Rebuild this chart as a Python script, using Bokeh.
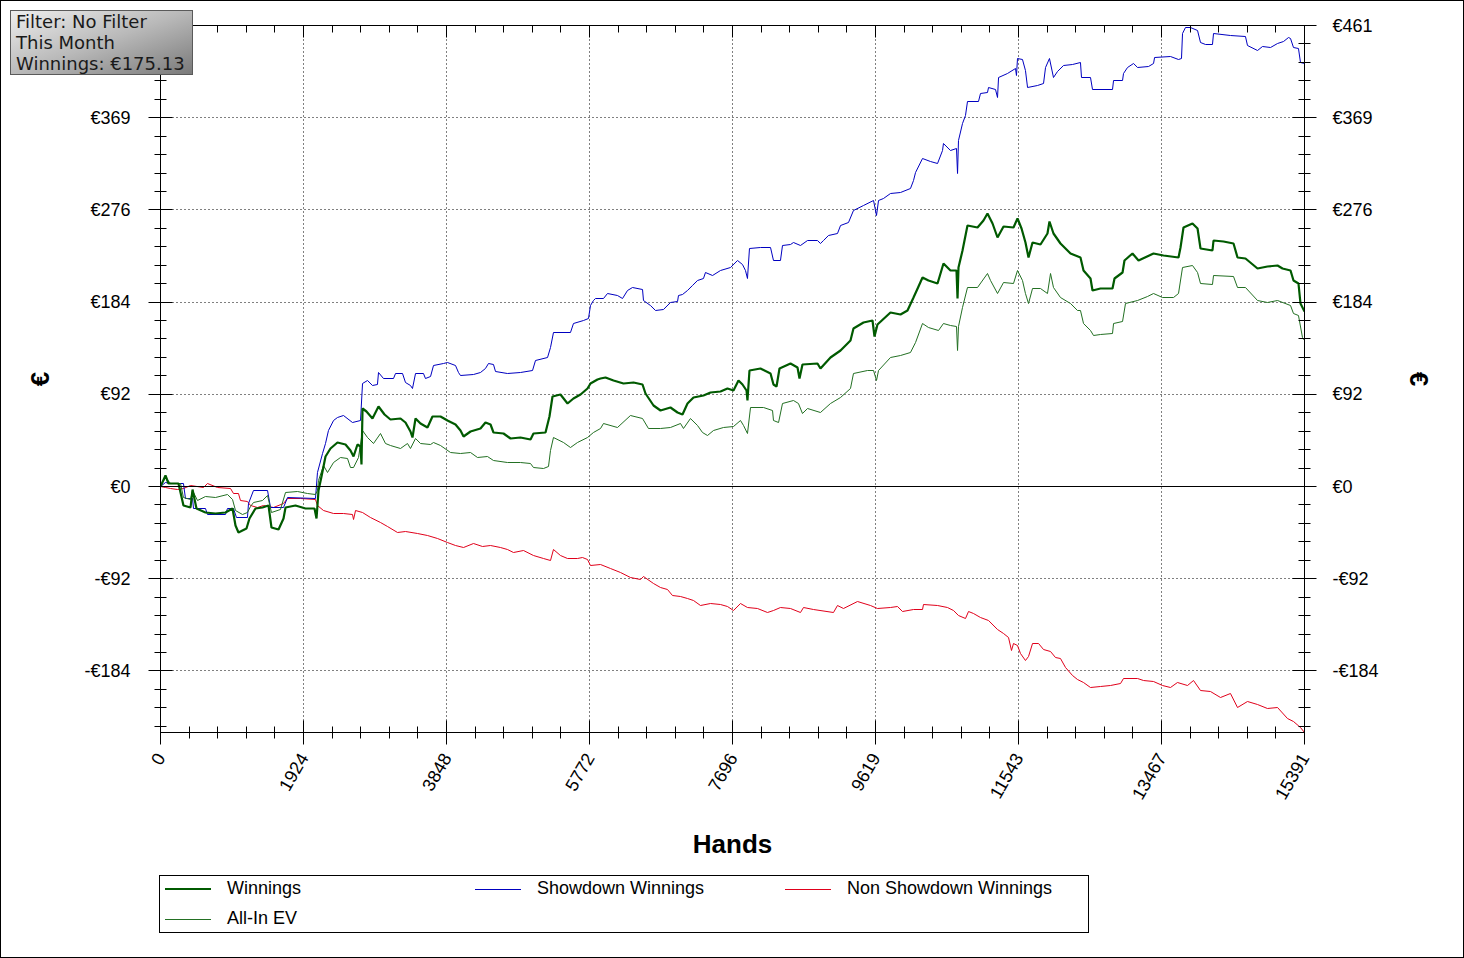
import math
from bokeh.plotting import figure
from bokeh.layouts import column
from bokeh.models import (Range1d, LinearAxis, FixedTicker, CustomJSTickFormatter,
                          Span, Div)
from bokeh.embed import file_html
from bokeh.resources import INLINE

# ---------------- data (hands, euros) ----------------
win_hands = [
    0, 67, 108, 242, 309, 404, 431, 484, 605, 740,
    874, 969, 1009, 1049, 1157, 1197, 1278, 1372, 1453, 1493,
    1588, 1655, 1682, 1816, 1951, 2072, 2099, 2126, 2166, 2220,
    2287, 2381, 2489, 2556, 2597, 2650, 2691, 2704, 2718, 2771,
    2852, 2933, 3014, 3094, 3229, 3296, 3363, 3390, 3431, 3498,
    3592, 3659, 3767, 3861, 3969, 4036, 4077, 4171, 4305, 4372,
    4440, 4480, 4615, 4709, 4843, 4978, 5018, 5180, 5233, 5274,
    5381, 5476, 5556, 5651, 5745, 5785, 5879, 5920, 5987, 6095,
    6229, 6364, 6485, 6525, 6633, 6727, 6861, 6956, 7023, 7090,
    7171, 7305, 7400, 7534, 7628, 7709, 7776, 7830, 7884, 7897,
    7924, 8072, 8207, 8247, 8288, 8328, 8476, 8570, 8597, 8637,
    8839, 8879, 9014, 9149, 9283, 9323, 9458, 9579, 9606, 9646,
    9821, 9956, 10050, 10131, 10198, 10252, 10332, 10454, 10534, 10628,
    10709, 10723, 10736, 10790, 10857, 10992, 11072, 11126, 11194, 11261,
    11342, 11476, 11530, 11584, 11637, 11678, 11732, 11839, 11933, 11960,
    12014, 12108, 12243, 12377, 12418, 12512, 12539, 12646, 12808, 12835,
    12943, 12969, 13077, 13158, 13360, 13494, 13696, 13723, 13763, 13884,
    13952, 13992, 14153, 14167, 14301, 14436, 14490, 14597, 14759, 14893,
    15028, 15095, 15203, 15243, 15310, 15337, 15391,
]
win_values = [
    0, 11, 3, 3, -19, -21, -3, -22, -26, -27,
    -26, -22, -39, -46, -42, -32, -22, -21, -19, -41,
    -43, -32, -21, -19, -22, -22, -32, -4, 10, 30,
    38, 44, 42, 36, 30, 42, 40, 22, 78, 75,
    68, 80, 72, 67, 68, 64, 55, 49, 68, 63,
    59, 70, 70, 66, 62, 56, 50, 55, 58, 64,
    62, 54, 53, 48, 49, 47, 53, 54, 70, 90,
    92, 83, 88, 92, 98, 103, 107, 108, 109, 106,
    103, 104, 102, 93, 81, 76, 79, 74, 72, 83,
    89, 91, 94, 95, 98, 96, 106, 102, 96, 86,
    116, 118, 113, 102, 100, 118, 123, 119, 108, 122,
    123, 118, 129, 136, 146, 158, 164, 166, 150, 162,
    174, 172, 176, 189, 200, 209, 206, 203, 223, 216,
    216, 188, 219, 236, 261, 259, 266, 273, 263, 249,
    260, 259, 268, 258, 244, 229, 244, 242, 253, 265,
    253, 243, 233, 229, 216, 208, 196, 198, 198, 208,
    214, 226, 233, 226, 233, 231, 229, 239, 259, 263,
    258, 238, 236, 246, 245, 243, 229, 228, 218, 220,
    221, 218, 216, 206, 203, 183, 175,
]

ev_hands = [
    0, 67, 135, 269, 309, 404, 431, 498, 605, 740,
    901, 969, 1009, 1103, 1170, 1211, 1251, 1372, 1440, 1493,
    1614, 1682, 1843, 1978, 2085, 2112, 2126, 2193, 2247, 2328,
    2422, 2516, 2556, 2597, 2664, 2718, 2785, 2866, 2960, 3027,
    3094, 3229, 3323, 3363, 3431, 3498, 3633, 3673, 3767, 3902,
    4036, 4171, 4265, 4399, 4480, 4668, 4843, 4978, 5018, 5153,
    5220, 5247, 5287, 5422, 5516, 5610, 5745, 5825, 5920, 5960,
    6148, 6323, 6485, 6565, 6727, 6861, 6996, 7036, 7130, 7225,
    7292, 7359, 7440, 7574, 7709, 7803, 7844, 7897, 7938, 8113,
    8234, 8247, 8315, 8368, 8516, 8583, 8637, 8705, 8879, 9014,
    9149, 9283, 9323, 9512, 9593, 9633, 9660, 9821, 9956, 10090,
    10158, 10252, 10332, 10467, 10534, 10628, 10709, 10723, 10736, 10790,
    10857, 10992, 11126, 11167, 11261, 11342, 11476, 11530, 11597, 11637,
    11678, 11732, 11839, 11933, 11974, 12014, 12108, 12243, 12337, 12377,
    12418, 12512, 12553, 12646, 12808, 12822, 12943, 12983, 13145, 13279,
    13360, 13481, 13629, 13696, 13750, 13884, 13952, 13992, 14153, 14167,
    14436, 14490, 14597, 14759, 14893, 15028, 15203, 15243, 15310, 15364,
    15391,
]
ev_values = [
    0, 9, 3, 3, -11, -13, -4, -14, -10, -11,
    -8, -13, -24, -28, -26, -20, -16, -14, -9, -26,
    -23, -6, -5, -7, -8, -4, 6, 21, 14, 24,
    29, 28, 19, 19, 29, 56, 49, 43, 53, 43,
    41, 38, 43, 38, 48, 43, 42, 44, 41, 34,
    33, 34, 29, 30, 26, 24, 24, 23, 19, 18,
    20, 36, 49, 44, 39, 44, 49, 54, 58, 63,
    59, 71, 68, 58, 58, 59, 63, 58, 68, 61,
    54, 51, 56, 59, 60, 66, 61, 53, 79, 79,
    76, 66, 64, 83, 86, 83, 73, 78, 74, 83,
    89, 98, 113, 116, 116, 106, 116, 129, 131, 134,
    144, 163, 159, 156, 163, 161, 160, 136, 160, 179,
    199, 199, 213, 206, 193, 204, 203, 216, 206, 193,
    183, 198, 198, 193, 213, 199, 189, 183, 176, 176,
    163, 156, 151, 152, 153, 163, 165, 183, 186, 190,
    193, 189, 189, 193, 219, 221, 214, 203, 202, 211,
    210, 199, 199, 186, 184, 186, 181, 173, 171, 149,
    146,
]

sd_hands = [
    0, 67, 135, 309, 336, 431, 444, 605, 632, 874,
    901, 982, 1022, 1170, 1184, 1251, 1440, 1480, 1655, 1709,
    2085, 2112, 2180, 2220, 2260, 2328, 2381, 2462, 2583, 2691,
    2718, 2785, 2852, 2919, 2933, 3000, 3135, 3162, 3256, 3296,
    3363, 3390, 3431, 3538, 3565, 3633, 3673, 3807, 3861, 3969,
    4009, 4036, 4211, 4305, 4372, 4413, 4480, 4507, 4668, 4843,
    5005, 5045, 5207, 5247, 5287, 5516, 5556, 5691, 5758, 5785,
    5825, 5852, 5960, 6014, 6148, 6216, 6283, 6350, 6485, 6498,
    6592, 6660, 6767, 6861, 6956, 6969, 7023, 7090, 7157, 7225,
    7305, 7332, 7427, 7534, 7669, 7763, 7830, 7870, 7897, 7924,
    8072, 8207, 8247, 8341, 8368, 8476, 8516, 8610, 8705, 8839,
    8879, 8920, 8987, 9108, 9149, 9256, 9323, 9458, 9593, 9633,
    9660, 9727, 9821, 9956, 10090, 10131, 10158, 10252, 10359, 10454,
    10521, 10534, 10628, 10709, 10723, 10736, 10790, 10830, 10857, 11005,
    11032, 11126, 11140, 11234, 11261, 11275, 11395, 11503, 11516, 11530,
    11597, 11637, 11665, 11799, 11880, 11907, 11960, 12014, 12068, 12149,
    12270, 12377, 12391, 12512, 12539, 12808, 12822, 12943, 12956, 13010,
    13091, 13145, 13293, 13360, 13374, 13588, 13696, 13736, 13750, 13790,
    13857, 13952, 13992, 14060, 14153, 14167, 14395, 14597, 14624, 14759,
    14826, 14934, 15028, 15109, 15176, 15203, 15243, 15310, 15337, 15391,
]
sd_values = [
    0, 4, 3, 3, -12, -12, -22, -22, -28, -28,
    -22, -22, -31, -31, -17, -4, -4, -21, -21, -11,
    -12, 14, 33, 43, 56, 66, 69, 71, 64, 66,
    103, 106, 101, 102, 114, 108, 108, 113, 113, 104,
    101, 98, 113, 113, 108, 110, 121, 123, 124, 121,
    114, 111, 112, 114, 118, 123, 122, 115, 113, 114,
    116, 126, 129, 139, 154, 154, 163, 166, 168, 181,
    186, 188, 188, 193, 191, 188, 196, 199, 197, 186,
    181, 176, 177, 184, 185, 191, 192, 196, 201, 206,
    208, 214, 211, 216, 219, 226, 222, 216, 208, 238,
    239, 239, 226, 226, 241, 242, 244, 241, 246, 246,
    243, 246, 251, 253, 261, 264, 276, 281, 286, 271,
    286, 288, 293, 294, 298, 306, 314, 328, 325, 323,
    336, 343, 336, 338, 313, 346, 363, 371, 385, 385,
    393, 394, 399, 397, 389, 409, 413, 418, 411, 428,
    427, 416, 399, 401, 403, 419, 428, 409, 415, 421,
    422, 424, 409, 409, 397, 397, 406, 406, 413, 419,
    423, 419, 420, 423, 429, 430, 427, 428, 453, 459,
    459, 456, 444, 442, 442, 453, 451, 450, 441, 436,
    440, 439, 443, 445, 449, 448, 439, 438, 424, 423,
]

nsd_hands = [
    0, 67, 135, 229, 309, 404, 579, 632, 767, 942,
    982, 1049, 1076, 1170, 1211, 1305, 1386, 1520, 1655, 1709,
    1884, 2085, 2112, 2193, 2328, 2462, 2583, 2597, 2624, 2718,
    2825, 2960, 3054, 3189, 3296, 3458, 3592, 3727, 3861, 3969,
    4077, 4211, 4332, 4440, 4574, 4668, 4749, 4884, 5018, 5153,
    5247, 5287, 5381, 5476, 5610, 5677, 5745, 5785, 5920, 6054,
    6189, 6323, 6458, 6498, 6633, 6727, 6821, 6888, 6996, 7090,
    7171, 7265, 7400, 7534, 7628, 7709, 7803, 7897, 8032, 8166,
    8247, 8341, 8476, 8610, 8651, 8785, 9054, 9108, 9189, 9377,
    9552, 9646, 9821, 9915, 9983, 10131, 10252, 10265, 10454, 10588,
    10669, 10736, 10830, 10871, 10938, 11032, 11140, 11261, 11342, 11409,
    11449, 11476, 11530, 11570, 11637, 11678, 11732, 11813, 11880, 11974,
    12041, 12108, 12176, 12270, 12337, 12418, 12512, 12646, 12781, 12916,
    12956, 13145, 13225, 13360, 13481, 13588, 13682, 13817, 13898, 13992,
    14126, 14261, 14395, 14490, 14624, 14759, 14893, 15028, 15162, 15243,
    15337, 15391,
]
nsd_values = [
    0, -1, -2, -3, -2, 1, -1, 3, -1, -2,
    -7, -7, -14, -15, -19, -21, -19, -21, -17, -12,
    -12, -13, -19, -24, -27, -27, -28, -33, -24, -26,
    -31, -36, -40, -46, -45, -47, -49, -52, -56, -59,
    -61, -57, -60, -59, -61, -63, -66, -64, -69, -72,
    -74, -63, -69, -72, -72, -71, -73, -79, -78, -82,
    -86, -91, -93, -90, -97, -101, -103, -109, -110, -112,
    -114, -119, -117, -118, -120, -124, -117, -121, -122, -126,
    -124, -121, -122, -126, -121, -123, -126, -119, -122, -115,
    -119, -122, -121, -120, -125, -123, -123, -118, -119, -121,
    -124, -129, -132, -125, -127, -131, -134, -143, -147, -151,
    -164, -157, -159, -167, -174, -170, -157, -157, -163, -165,
    -171, -172, -181, -189, -193, -196, -201, -200, -199, -197,
    -192, -192, -194, -195, -199, -201, -196, -199, -194, -204,
    -205, -211, -207, -221, -215, -218, -222, -221, -232, -235,
    -241, -246,
]

series_labels = ["Winnings", "Showdown Winnings", "Non Showdown Winnings", "All-In EV"]
series_colors = ["#005a00", "#0000c0", "#e0001b", "#237023"]
series_widths = [2, 1, 1, 1]

x_ticks = [0, 1924, 3848, 5772, 7696, 9619, 11543, 13467, 15391]
y_ticks = [-184.4, -92.2, 0.0, 92.2, 184.4, 276.6, 368.8, 461.0]
y_tick_labels = ["-€184", "-€92", "€0", "€92", "€184", "€276", "€369", "€461"]

info_lines = ["Filter: No Filter", "This Month", "Winnings: €175.13"]

X_MIN, X_MAX = 0, 15391
Y_MIN, Y_MAX = -246, 461

# ---------------- ticks ----------------
x_minor = [a + (b - a) * k / 5 for a, b in zip(x_ticks[:-1], x_ticks[1:]) for k in range(1, 5)]
y_step = (y_ticks[1] - y_ticks[0]) / 5
y_minor = [v for v in (i * y_step for i in range(-14, 27)) if Y_MIN <= v <= Y_MAX]

FONT = "Liberation Sans"

p = figure(width=1464, height=958, output_backend="svg", toolbar_location=None,
           x_range=Range1d(X_MIN, X_MAX), y_range=Range1d(Y_MIN, Y_MAX),
           min_border_left=160, min_border_right=160, min_border_top=25,
           min_border_bottom=226, background_fill_color="white",
           border_fill_color="white", outline_line_color=None, margin=0)

y_fmt = CustomJSTickFormatter(args=dict(vals=y_ticks, labs=y_tick_labels), code="""
let best = 0;
for (let i = 0; i < vals.length; i++) {
  if (Math.abs(vals[i] - tick) < Math.abs(vals[best] - tick)) best = i;
}
return labs[best];
""")
blank_fmt = CustomJSTickFormatter(code="return '';")


def style(ax, ticks, minor, tin, tout, mtin, mtout):
    ax.ticker = FixedTicker(ticks=ticks, minor_ticks=minor)
    ax.axis_line_color = "black"
    ax.axis_line_width = 1
    ax.major_tick_line_color = "black"
    ax.minor_tick_line_color = "black"
    ax.major_tick_in = tin
    ax.major_tick_out = tout
    ax.minor_tick_in = mtin
    ax.minor_tick_out = mtout
    ax.major_label_text_font = FONT
    ax.major_label_text_font_size = "18px"
    ax.major_label_text_color = "black"
    ax.axis_label_text_font = FONT
    ax.axis_label_text_font_size = "26px"
    ax.axis_label_text_font_style = "bold"
    ax.axis_label_text_color = "black"


# bottom
xb = p.xaxis[0]
style(xb, x_ticks, x_minor, 12, 12, 6, 6)
xb.major_label_orientation = math.pi / 3
xb.major_label_standoff = 10
xb.axis_label = "Hands"
xb.axis_label_standoff = 22

# left
yl = p.yaxis[0]
style(yl, y_ticks, y_minor, 12, 12, 6, 6)
yl.formatter = y_fmt
yl.major_label_standoff = 18
yl.axis_label = "€"
yl.axis_label_standoff = 26

# right
yr = LinearAxis()
style(yr, y_ticks, y_minor, 12, 12, 6, 6)
yr.formatter = y_fmt
yr.major_label_standoff = 16
yr.axis_label = "€"
yr.axis_label_standoff = 22
p.add_layout(yr, "right")

# top
xt = LinearAxis()
style(xt, x_ticks, x_minor, 12, 0, 7, 0)
xt.formatter = blank_fmt
xt.major_label_text_font_size = "0px"
xt.major_label_standoff = 0
p.add_layout(xt, "above")

# grids
p.xgrid.ticker = FixedTicker(ticks=x_ticks)
p.ygrid.ticker = FixedTicker(ticks=y_ticks)
for g in (p.xgrid, p.ygrid):
    g.grid_line_color = "black"
    g.grid_line_dash = "1 3"
    g.grid_line_width = 1

p.add_layout(Span(location=0, dimension="width", line_color="black", line_width=1))

p.line(nsd_hands, nsd_values, line_color=series_colors[2], line_width=1)
p.line(sd_hands, sd_values, line_color=series_colors[1], line_width=1)
p.line(ev_hands, ev_values, line_color=series_colors[3], line_width=1)
p.line(win_hands, win_values, line_color=series_colors[0], line_width=2.2)

# ---------------- legend box (HTML, below the axis) ----------------
items_html = []
for i, (lab, col, w) in enumerate(zip(series_labels, series_colors, series_widths)):
    c, r = i % 3, i // 3
    cy = 13 + r * 30
    gx = 5 + c * 310
    items_html.append(
        f'<div style="position:absolute;left:{gx}px;top:{cy - w // 2}px;width:46px;'
        f'height:{w}px;background-color:{col};"></div>'
        f'<div style="position:absolute;left:{gx + 62}px;top:{cy - 11}px;line-height:20px;'
        f'white-space:nowrap;">{lab}</div>')
legend_html = (
    '<div style="position:relative;width:930px;height:58px;border:1px solid #000;'
    "box-sizing:border-box;background:#fff;font-family:'Liberation Sans',Arial,sans-serif;"
    'font-size:18px;color:#000;">' + "".join(items_html) + "</div>")
legend_div = Div(text=legend_html, width=930, height=58, margin=0,
                 styles={"position": "absolute", "left": "159px", "top": "875px",
                         "z-index": "10"})

# ---------------- info box (top left) ----------------
info = Div(
    text="<br>".join(info_lines), width=183, height=65, margin=0,
    styles={"position": "absolute", "left": "10px", "top": "10px", "z-index": "10",
            "background": "linear-gradient(160deg, #eeeeee 0%, #b9b9b9 50%, #7a7a7a 100%)",
            "border": "1px solid #5a5a5a", "box-sizing": "border-box",
            "font-family": "'DejaVu Sans'", "font-size": "18px", "line-height": "21px",
            "color": "#1a1a1a", "padding": "0px 5px", "white-space": "nowrap",
            "overflow": "hidden"})

frame_div = Div(text="", width=1464, height=958, margin=0,
                styles={"position": "absolute", "left": "0px", "top": "0px",
                        "border": "1px solid #000", "box-sizing": "border-box",
                        "pointer-events": "none", "z-index": "5"})

layout = column(p, info, legend_div, frame_div, margin=0)
open("out.html", "w").write(file_html(layout, INLINE))
